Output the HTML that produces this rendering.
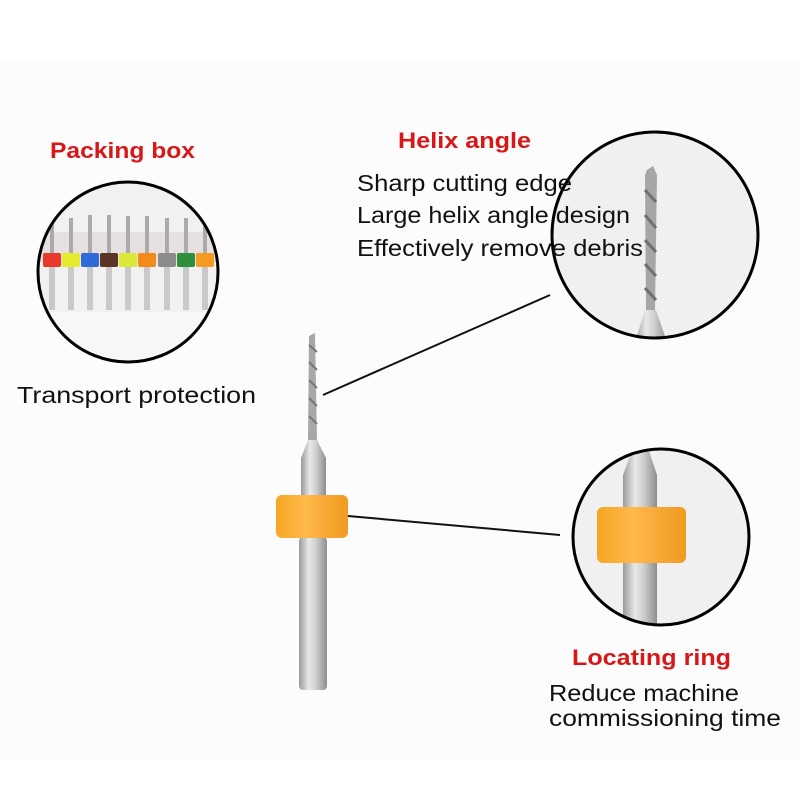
<!DOCTYPE html>
<html><head><style>
body{margin:0;background:#fff}
svg{display:block}
text{font-family:"Liberation Sans",sans-serif}
</style></head><body>
<svg width="800" height="800" viewBox="0 0 800 800" xmlns="http://www.w3.org/2000/svg">
<defs>
<linearGradient id="steel" x1="0" x2="1" y1="0" y2="0">
<stop offset="0" stop-color="#9a9a9a"/><stop offset="0.35" stop-color="#e8e8e8"/><stop offset="0.6" stop-color="#cfcfcf"/><stop offset="1" stop-color="#8d8d8d"/>
</linearGradient>
<linearGradient id="ring" x1="0" x2="1"><stop offset="0" stop-color="#f5a623"/><stop offset="0.4" stop-color="#ffb84a"/><stop offset="1" stop-color="#f09a20"/></linearGradient>
<clipPath id="c1"><circle cx="128" cy="272" r="90"/></clipPath>
<clipPath id="c2"><circle cx="655" cy="235" r="103"/></clipPath>
<clipPath id="c3"><circle cx="661" cy="537" r="88"/></clipPath>
</defs>
<rect width="800" height="800" fill="#fff"/>
<rect x="0" y="60" width="800" height="700" fill="#fcfcfc"/>

<!-- main drill -->
<polygon points="309,336 315,333 317,440 308,440" fill="#a8a8a8"/>
<path d="M309,345 L317,352 M309,362 L317,370 M309,380 L317,388 M309,398 L317,406 M309,416 L317,424" stroke="#777" stroke-width="2"/>
<polygon points="308,440 317,440 326,458 326,495 301,495 301,458" fill="url(#steel)"/>
<rect x="299" y="537" width="28" height="153" rx="4" fill="url(#steel)"/>
<rect x="276" y="495" width="72" height="43" rx="6" fill="url(#ring)"/>

<!-- connector lines -->
<line x1="323" y1="395" x2="550" y2="295" stroke="#111" stroke-width="2"/>
<line x1="348" y1="516" x2="560" y2="535" stroke="#111" stroke-width="2"/>

<!-- circle 1: packing box -->
<g clip-path="url(#c1)">
<rect x="30" y="180" width="200" height="190" fill="#f1f1f1"/>
<rect x="30" y="232" width="200" height="30" fill="#e6e0e0"/>
<rect x="30" y="312" width="200" height="60" fill="#f7f7f7"/>
<g>
<g transform="translate(52,0)"><rect x="-2" y="222" width="4" height="33" fill="#aaa"/><rect x="-3" y="265" width="6" height="45" fill="#c9c9c9"/><rect x="-9" y="253" width="18" height="14" rx="2" fill="#e8392a"/></g>
<g transform="translate(71,0)"><rect x="-2" y="218" width="4" height="37" fill="#aaa"/><rect x="-3" y="265" width="6" height="45" fill="#c9c9c9"/><rect x="-9" y="253" width="18" height="14" rx="2" fill="#e6ea2e"/></g>
<g transform="translate(90,0)"><rect x="-2" y="215" width="4" height="40" fill="#aaa"/><rect x="-3" y="265" width="6" height="45" fill="#c9c9c9"/><rect x="-9" y="253" width="18" height="14" rx="2" fill="#2e6ad8"/></g>
<g transform="translate(109,0)"><rect x="-2" y="215" width="4" height="40" fill="#aaa"/><rect x="-3" y="265" width="6" height="45" fill="#c9c9c9"/><rect x="-9" y="253" width="18" height="14" rx="2" fill="#5b3426"/></g>
<g transform="translate(128,0)"><rect x="-2" y="216" width="4" height="39" fill="#aaa"/><rect x="-3" y="265" width="6" height="45" fill="#c9c9c9"/><rect x="-9" y="253" width="18" height="14" rx="2" fill="#dbe836"/></g>
<g transform="translate(147,0)"><rect x="-2" y="216" width="4" height="39" fill="#aaa"/><rect x="-3" y="265" width="6" height="45" fill="#c9c9c9"/><rect x="-9" y="253" width="18" height="14" rx="2" fill="#f28a1c"/></g>
<g transform="translate(167,0)"><rect x="-2" y="218" width="4" height="37" fill="#aaa"/><rect x="-3" y="265" width="6" height="45" fill="#c9c9c9"/><rect x="-9" y="253" width="18" height="14" rx="2" fill="#8c8c8c"/></g>
<g transform="translate(186,0)"><rect x="-2" y="218" width="4" height="37" fill="#aaa"/><rect x="-3" y="265" width="6" height="45" fill="#c9c9c9"/><rect x="-9" y="253" width="18" height="14" rx="2" fill="#2e8f3c"/></g>
<g transform="translate(205,0)"><rect x="-2" y="220" width="4" height="35" fill="#aaa"/><rect x="-3" y="265" width="6" height="45" fill="#c9c9c9"/><rect x="-9" y="253" width="18" height="14" rx="2" fill="#f59a22"/></g>
</g>
</g>
<circle cx="128" cy="272" r="90" fill="none" stroke="#000" stroke-width="3"/>

<!-- circle 2: helix -->
<g clip-path="url(#c2)">
<rect x="540" y="120" width="230" height="230" fill="#f0f0f0"/>
<polygon points="647,170 653,166 657,175 655,310 646,310 645,175" fill="#a6a6a6"/>
<path d="M645,190 L656,202 M645,215 L656,228 M645,240 L656,252 M645,264 L656,276 M645,288 L656,300" stroke="#6f6f6f" stroke-width="3"/>
<polygon points="645,310 656,310 668,345 634,345" fill="url(#steel)"/>
</g>
<circle cx="655" cy="235" r="103" fill="none" stroke="#000" stroke-width="3"/>

<!-- circle 3: ring -->
<g clip-path="url(#c3)">
<rect x="565" y="440" width="200" height="200" fill="#f0f0f0"/>
<polygon points="633,448 648,448 657,475 657,630 623,630 623,475" fill="url(#steel)"/>
<rect x="597" y="507" width="89" height="56" rx="6" fill="url(#ring)"/>
</g>
<circle cx="661" cy="537" r="88" fill="none" stroke="#000" stroke-width="3"/>

<!-- text -->
<g font-size="22" fill="#d81818" font-weight="bold">
<text x="50" y="158" textLength="145" lengthAdjust="spacingAndGlyphs">Packing box</text>
<text x="398" y="148" textLength="133" lengthAdjust="spacingAndGlyphs">Helix angle</text>
<text x="572" y="665" textLength="159" lengthAdjust="spacingAndGlyphs">Locating ring</text>
</g>
<g font-size="23" fill="#111">
<text x="17" y="403" textLength="239" lengthAdjust="spacingAndGlyphs">Transport protection</text>
<text x="357" y="191" textLength="215" lengthAdjust="spacingAndGlyphs">Sharp cutting edge</text>
<text x="357" y="223" textLength="273" lengthAdjust="spacingAndGlyphs">Large helix angle design</text>
<text x="357" y="256" textLength="286" lengthAdjust="spacingAndGlyphs">Effectively remove debris</text>
<text x="549" y="701" textLength="190" lengthAdjust="spacingAndGlyphs">Reduce machine</text>
<text x="549" y="726" textLength="232" lengthAdjust="spacingAndGlyphs">commissioning time</text>
</g>
</svg>
</body></html>
